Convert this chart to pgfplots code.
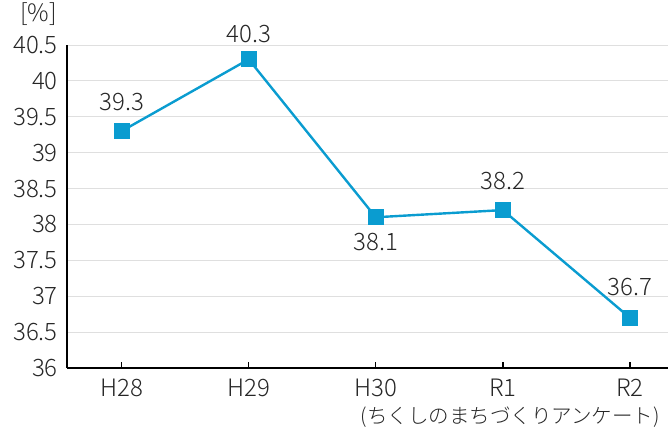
\documentclass[border=0pt]{standalone}
\usepackage{fontspec}
\setmainfont{Noto Sans CJK JP}[UprightFont=* Light]
\usepackage{pgfplots}
\pgfplotsset{compat=1.18}
\definecolor{lc}{HTML}{0A9CD0}
\begin{document}
\fontsize{24}{28}\selectfont
\begin{tikzpicture}
\path[use as bounding box] (0,0) rectangle (668pt,430pt);
\begin{axis}[
  at={(67pt,62pt)}, anchor=south west,
  scale only axis, width=601pt, height=323pt,
  xmin=-0.43, xmax=4.3, ymin=36, ymax=40.5,
  xtick={0,1,2,3,4}, xticklabels={H28,H29,H30,R1,R2},
  ytick={36,36.5,...,40.5},
  yticklabels={36,36.5,37,37.5,38,38.5,39,39.5,40,40.5},
  axis x line*=bottom, axis y line*=left,
  axis line style={black, line width=1.6pt, -},
  ymajorgrids, grid style={gray!25, line width=0.8pt},
  major tick length=6pt,
  xtick style={black, line width=1.4pt},
  ytick style={draw=none},
  tick align=inside,
  ticklabel style={font=\fontsize{24}{28}\selectfont, text=black!85},
  yticklabel style={xshift=-1pt},
  xticklabel style={yshift=-3pt},
  /pgf/number format/assume math mode=true,
  clip=false,
  nodes near coords,
  every node near coord/.append style={font=\fontsize{24}{28}\selectfont, text=black!85},
]
\addplot[color=lc, line width=2.4pt, mark=square*, mark size=7.5pt, mark options={fill=lc, draw=lc, line width=0pt},
  nodes near coords={\pgfmathprintnumber[fixed, precision=1]{\pgfplotspointmeta}},
  visualization depends on={value \thisrow{pos} \as \lpos},
  visualization depends on={value \thisrow{dy} \as \ldy},
  every node near coord/.append style={anchor=\lpos, yshift=\ldy pt},
] table[x=x, y=y, meta=y] {
x y pos dy
0 39.3 south 12
1 40.3 south 9
2 38.1 north -8
3 38.2 south 12
4 36.7 south 14
};
\end{axis}
\node[anchor=south west, text=black!85, font=\fontsize{24}{28}\selectfont] at (12pt,396pt) {[\%]};
\node[anchor=east, text=black!85, font=\fontsize{20.5}{24}\selectfont] at (668pt,13pt) {(ちくしのまちづくりアンケート)};
\end{tikzpicture}
\end{document}
